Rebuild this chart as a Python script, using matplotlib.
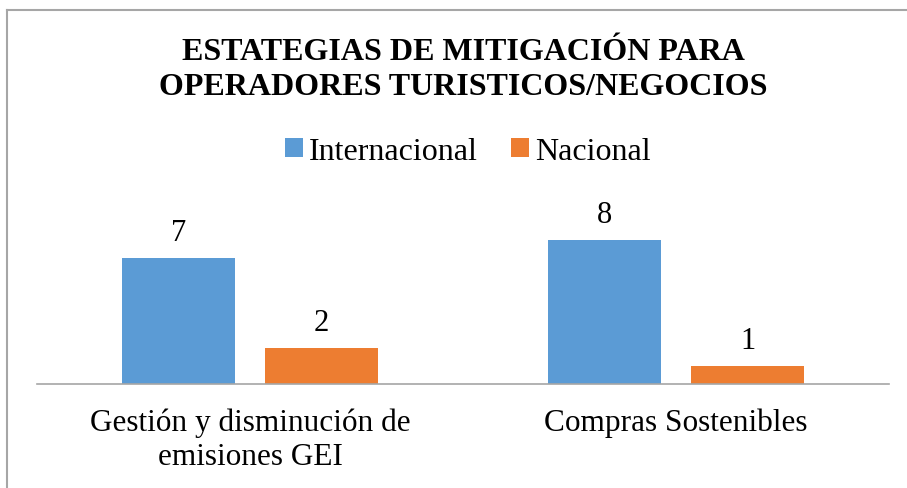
import matplotlib.pyplot as plt
import numpy as np
from matplotlib.lines import Line2D

plt.rcParams["font.family"] = ["Liberation Serif", "DejaVu Serif"]

# chart values
categories = ["Gestión y disminución de\nemisiones GEI", "Compras Sostenibles"]
series_names = ["Internacional", "Nacional"]
internacional = [7, 8]
nacional = [2, 1]
title = "ESTATEGIAS DE MITIGACIÓN PARA\nOPERADORES TURISTICOS/NEGOCIOS"

BLUE = "#5B9BD5"
ORANGE = "#ED7D31"
GRAY = "#A6A6A6"

W, H = 907, 489
fig = plt.figure(figsize=(W / 100, H / 100), dpi=100)

# chart frame (cropped on right and bottom in the reference)
fig.add_artist(Line2D([7 / W, 7 / W], [0, 1 - 11 / H], color=GRAY, lw=1.5))
fig.add_artist(Line2D([7 / W, 1], [1 - 11 / H, 1 - 11 / H], color=GRAY, lw=1.5))

ax = fig.add_axes([37 / W, 104 / H, 852 / W, 162 / H])
x = np.arange(len(categories))
bw = 0.267
off = 0.168
b1 = ax.bar(x - off, internacional, bw, color=BLUE, label=series_names[0])
b2 = ax.bar(x + off, nacional, bw, color=ORANGE, label=series_names[1])
ax.set_xlim(-0.5, 1.5)
ax.set_ylim(0, 9)

for bars in (b1, b2):
    for r in bars:
        ax.annotate(f"{int(r.get_height())}", (r.get_x() + r.get_width() / 2, r.get_height()),
                    xytext=(0, 8), textcoords="offset points", ha="center", va="bottom", fontsize=22)

for s in ["top", "right", "left"]:
    ax.spines[s].set_visible(False)
ax.spines["bottom"].set_color(GRAY)
ax.spines["bottom"].set_linewidth(1.2)
ax.set_yticks([])
ax.set_xticks(x)
ax.set_xticklabels(categories, fontsize=22.5, linespacing=1.2)
ax.tick_params(axis="x", length=0, pad=17)

fig.text(463 / W, 1 - 70 / H, title, ha="center", va="center", fontsize=23,
         fontweight="bold", linespacing=1.28)

fig.legend(handles=[b1, b2], labels=series_names, loc="center", ncol=2,
           bbox_to_anchor=(468 / W, 1 - 152 / H), frameon=False, fontsize=23,
           handlelength=0.55, handleheight=0.55, handletextpad=0.2, columnspacing=1.05)

fig.savefig("out.png", dpi=100)
